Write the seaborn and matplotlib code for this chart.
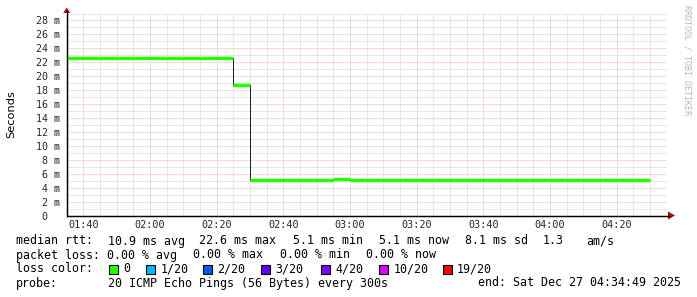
import matplotlib
matplotlib.use("Agg")
import matplotlib.pyplot as plt
from matplotlib.patches import Rectangle, Polygon
from matplotlib.lines import Line2D
import seaborn as sns
import pandas as pd

# ---------------- data ----------------
day = "2025-12-27 "
sample_starts = ["01:35", "01:40", "01:45", "01:50", "01:55", "02:00", "02:05", "02:10",
                 "02:15", "02:20", "02:25", "02:30", "02:35", "02:40", "02:45", "02:50",
                 "02:55", "03:00", "03:05", "03:10", "03:15", "03:20", "03:25", "03:30",
                 "03:35", "03:40", "03:45", "03:50", "03:55", "04:00", "04:05", "04:10",
                 "04:15", "04:20", "04:25"]
data_end = "04:30"
median_ms = [22.6, 22.6, 22.6, 22.6, 22.6, 22.6, 22.6, 22.6, 22.6, 22.6,
             18.7, 5.1, 5.1, 5.1, 5.05, 5.05, 5.3, 5.1, 5.1, 5.1,
             5.1, 5.1, 5.1, 5.1, 5.1, 5.1, 5.1, 5.1, 5.1, 5.1,
             5.1, 5.1, 5.1, 5.1, 5.1]
x_start, x_end = "01:35", "04:35"
xtick_labels = ["01:40", "02:00", "02:20", "02:40", "03:00", "03:20", "03:40", "04:00", "04:20"]
ytick_values = [0, 2, 4, 6, 8, 10, 12, 14, 16, 18, 20, 22, 24, 26, 28]
ytick_labels = ["0  ", "2 m", "4 m", "6 m", "8 m", "10 m", "12 m", "14 m", "16 m",
                "18 m", "20 m", "22 m", "24 m", "26 m", "28 m"]
legend_rows = [
    [("median rtt:", 16), ("10.9 ms avg", 107.5), ("22.6 ms max", 199), ("5.1 ms min", 293),
     ("5.1 ms now", 379), ("8.1 ms sd", 465), ("1.3", 542.5), ("am/s", 586.5)],
    [("packet loss:", 16), ("0.00 % avg", 107), ("0.00 % max", 193.5), ("0.00 % min", 279.5),
     ("0.00 % now", 365.5)],
    [("loss color:", 16)],
    [("probe:", 16), ("20 ICMP Echo Pings (56 Bytes) every 300s", 107.5),
     ("end: Sat Dec 27 04:34:49 2025", 478)],
]
loss_labels = ["0", "1/20", "2/20", "3/20", "4/20", "10/20", "19/20"]
loss_colors = ["#26ff00", "#00b8ff", "#0059ff", "#5e00ff", "#7e00ff", "#dd00ff", "#ff0000"]
loss_box_x = [109, 146, 203, 261, 320.5, 379, 442.5]

# ---------------- figure ----------------
W, H = 697, 297
sns.set_style("white")
plt.rcParams["font.family"] = ["DejaVu Sans"]
fig = plt.figure(figsize=(W / 100, H / 100), dpi=100, facecolor="white")

def fx(px):
    return px / W

def fy(py):
    return 1 - py / H

left_px, right_px, top_px, bot_px = 66.7, 666.7, 13.5, 215.5
ax = fig.add_axes([fx(left_px), fy(bot_px), (right_px - left_px) / W, (bot_px - top_px) / H])
ax.set_facecolor("white")

t = pd.to_datetime([day + s for s in sample_starts])
t_edges = list(t) + [pd.to_datetime(day + data_end)]
df = pd.DataFrame({"time": t_edges, "rtt": median_ms + [median_ms[-1]]})

# thin dark median step line
sns.lineplot(data=df, x="time", y="rtt", ax=ax, drawstyle="steps-post",
             color="#202020", linewidth=0.72, zorder=3)
# thick loss-coloured segments
ax.hlines(median_ms, t_edges[:-1], t_edges[1:], colors=loss_colors[0],
          linewidth=2.5, capstyle="butt", zorder=4)

ax.set_xlim(pd.to_datetime(day + x_start), pd.to_datetime(day + x_end))
ax.set_ylim(0, (bot_px - top_px) / 7.0)

xt = pd.to_datetime([day + s for s in xtick_labels])
ax.set_xticks(xt)
ax.set_xticklabels(xtick_labels, family="DejaVu Sans Mono", fontsize=7.3)
minor_x = pd.date_range(pd.to_datetime(day + x_start), pd.to_datetime(day + x_end), freq="5min")
ax.set_xticks(minor_x, minor=True)
ax.set_yticks(ytick_values)
ax.set_yticklabels(ytick_labels, family="DejaVu Sans Mono", fontsize=7.2)
ax.set_yticks([v + 1 for v in ytick_values], minor=True)
ax.tick_params(axis="both", which="both", length=0)
ax.tick_params(axis="x", pad=3.5)
ax.tick_params(axis="y", pad=5)

ax.grid(True, which="minor", color="#d2d2d2", linewidth=0.72, linestyle=(0, (1, 1)), zorder=0)
ax.grid(True, which="major", color="#f2b4b4", linewidth=0.72, linestyle=(0, (1, 1)), zorder=1)
ax.set_axisbelow(True)
ax.set_xlabel("")
ax.set_ylabel("")

for s in ["top", "right"]:
    ax.spines[s].set_visible(False)
for s in ["left", "bottom"]:
    ax.spines[s].set_color("black")
    ax.spines[s].set_linewidth(0.9)

# axis extensions and arrows
fig.add_artist(Line2D([fx(left_px), fx(670)], [fy(bot_px), fy(bot_px)],
                      transform=fig.transFigure, color="black", lw=0.9))
fig.add_artist(Line2D([fx(left_px), fx(left_px)], [fy(bot_px), fy(11)],
                      transform=fig.transFigure, color="black", lw=0.9))
arrow_col = "#a01010"
fig.add_artist(Polygon([(fx(668), fy(211.5)), (fx(668), fy(219.5)), (fx(675), fy(215.5))],
                       closed=True, transform=fig.transFigure, color=arrow_col, lw=0))
fig.add_artist(Polygon([(fx(63.2), fy(13)), (fx(70.2), fy(13)), (fx(66.7), fy(7.5))],
                       closed=True, transform=fig.transFigure, color=arrow_col, lw=0))

# y label
fig.text(fx(11), fy(114), "Seconds", rotation=90, ha="center", va="center",
         fontsize=8.2, family="DejaVu Sans", color="black")

# watermark
fig.text(fx(687), fy(5), "RRDTOOL / TOBI OETIKER", rotation=270, ha="center", va="top",
         fontsize=6.0, family="DejaVu Sans Mono", color="#b8b8b8")

# legend
legend_fs = 8.4
baselines = [244.5, 258.5, 272.5, 286.5]
for row, base in zip(legend_rows, baselines):
    for txt, xpx in row:
        fig.text(fx(xpx), fy(base), txt, ha="left", va="baseline",
                 fontsize=legend_fs, family="DejaVu Sans Mono", color="black")

for lbl, col, bx in zip(loss_labels, loss_colors, loss_box_x):
    fig.add_artist(Rectangle((fx(bx), fy(274)), 9 / W, 9 / H, transform=fig.transFigure,
                             facecolor=col, edgecolor="black", linewidth=0.8))
    fig.text(fx(bx + 14.5), fy(baselines[2]), lbl, ha="left", va="baseline",
             fontsize=legend_fs, family="DejaVu Sans Mono", color="black")

fig.savefig("out.png", dpi=100, facecolor="white")
